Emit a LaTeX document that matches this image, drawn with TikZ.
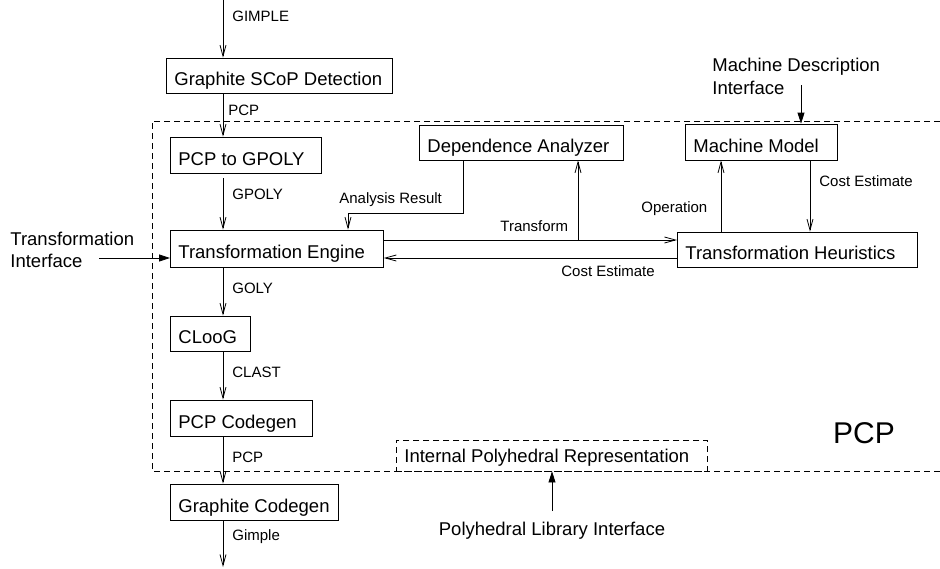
\documentclass[tikz,border=0pt]{standalone}
\usepackage{fontspec}
\setmainfont{Liberation Sans}
\usetikzlibrary{arrows.meta,positioning}

\newcommand\boxfont{\fontsize{18.5}{22.5}\selectfont}
\newcommand\lblfont{\fontsize{15}{18}\selectfont}

\begin{document}
\begin{tikzpicture}[%
    x=1pt, y=-1pt,                              % pixel-like grid, y going down
    >={Straight Barb[length=11pt,width=6pt]},   % open V heads for data flow
    line width=0.8pt,
    ]
\tikzset{
  box/.style={draw, rectangle, anchor=west, align=flush left, inner xsep=8pt, inner ysep=0pt,
    text height=20pt, text depth=0pt, minimum height=35pt, font=\boxfont},
  lbl/.style={anchor=west, inner sep=0pt, font=\lblfont},
  iface/.style={align=left, inner sep=0pt, font=\boxfont},
  feed/.style={-{Triangle[length=11pt,width=7pt]}},
  region/.style={dash pattern=on 6pt off 4pt},
}

\useasboundingbox (0,0) rectangle (940,568);

% main column
\node [box, text width=210pt] (scop) at (166,75.5) {Graphite SCoP Detection};
\node [box, text width=135pt, minimum height=36pt] (pcp2g) at (170,155) {PCP to GPOLY};
\node [box, text width=197pt, minimum height=37pt] (te) at (170,248.5) {Transformation Engine};
\node [box, text width=64pt] (cloog) at (170,333.5) {CLooG};
\node [box, text width=126pt, minimum height=36pt] (pcpcg) at (170,418) {PCP Codegen};
\node [box, text width=152pt, minimum height=36pt] (gcg) at (170,502) {Graphite Codegen};

% right part
\node [box, text width=188pt] (dep) at (419,142.5) {Dependence Analyzer};
\node [box, text width=136pt, minimum height=36pt] (mm) at (685,142) {Machine Model};
\node [box, text width=224pt] (th) at (677,249.5) {Transformation Heuristics};
\node [box, region, text width=295pt, text height=14pt, minimum height=31pt] (ipr) at (396,455.5) {Internal Polyhedral Representation};

% interfaces
\node [iface, anchor=west] (tin) at (10,250) {Transformation\\Interface};
\node [iface, anchor=west] (mdi) at (712,76.5) {Machine Description\\Interface};
\node [iface] (pli) at (552,531) {Polyhedral Library Interface};
\node [font=\fontsize{30}{36}\selectfont] (pcp) at (864,433) {PCP};

\draw [region] (940,121) -- (152,121) -- (152,471) -- (940,471);

%connect
\coordinate (col) at (223,0);
\coordinate (out) at (223,567);
\draw [->] (col) -- (col |- scop.north);
\node [lbl] at (232,16) {GIMPLE};
\draw [->] (scop.south -| col) -- (pcp2g.north -| col);
\node [lbl] at (228,110) {PCP};
\draw [->, shorten <=5pt] (pcp2g.south -| col) -- (te.north -| col);
\node [lbl] at (232,194) {GPOLY};
\draw [->] (te.south -| col) -- (cloog.north -| col);
\node [lbl] at (232,288) {GOLY};
\draw [->] (cloog.south -| col) -- (pcpcg.north -| col);
\node [lbl] at (232,372) {CLAST};
\draw [->] (pcpcg.south -| col) -- (gcg.north -| col);
\node [lbl] at (232,457) {PCP};
\draw [->] (gcg.south -| col) -- (out);
\node [lbl] at (232,537) {Gimple};

\coordinate (ar) at (463,213);
\coordinate (arin) at (348,0);
\draw [->] (dep.south -| ar) -- (ar) -| (te.north -| arin);
\node [lbl] at (339,200) {Analysis Result};

\coordinate (tf) at (578,240);
\draw [->] (te.east |- tf) -- (th.west |- tf);
\draw [->] (tf) -- (dep.south -| tf);
\node [lbl] at (500,226) {Transform};

\coordinate (ce) at (0,258);
\draw [->] (th.west |- ce) -- (te.east |- ce);
\node [lbl] at (561,271) {Cost Estimate};

\coordinate (op) at (721,0);
\draw [->] (th.north -| op) -- (mm.south -| op);
\node [lbl] at (641,209) {Operation};

\coordinate (cm) at (810,0);
\draw [->] (mm.south -| cm) -- (th.north -| cm);
\node [lbl] at (819,181) {Cost Estimate};

\coordinate (tif) at (99,258);
\draw [feed] (tif) -- (te.west |- tif);
\coordinate (mdf) at (801,85);
\draw [feed] (mdf) -- (mdf |- mm.north);
\coordinate (plf) at (552,511);
\draw [feed] (plf) -- (plf |- ipr.south);

\end{tikzpicture}
\end{document}
